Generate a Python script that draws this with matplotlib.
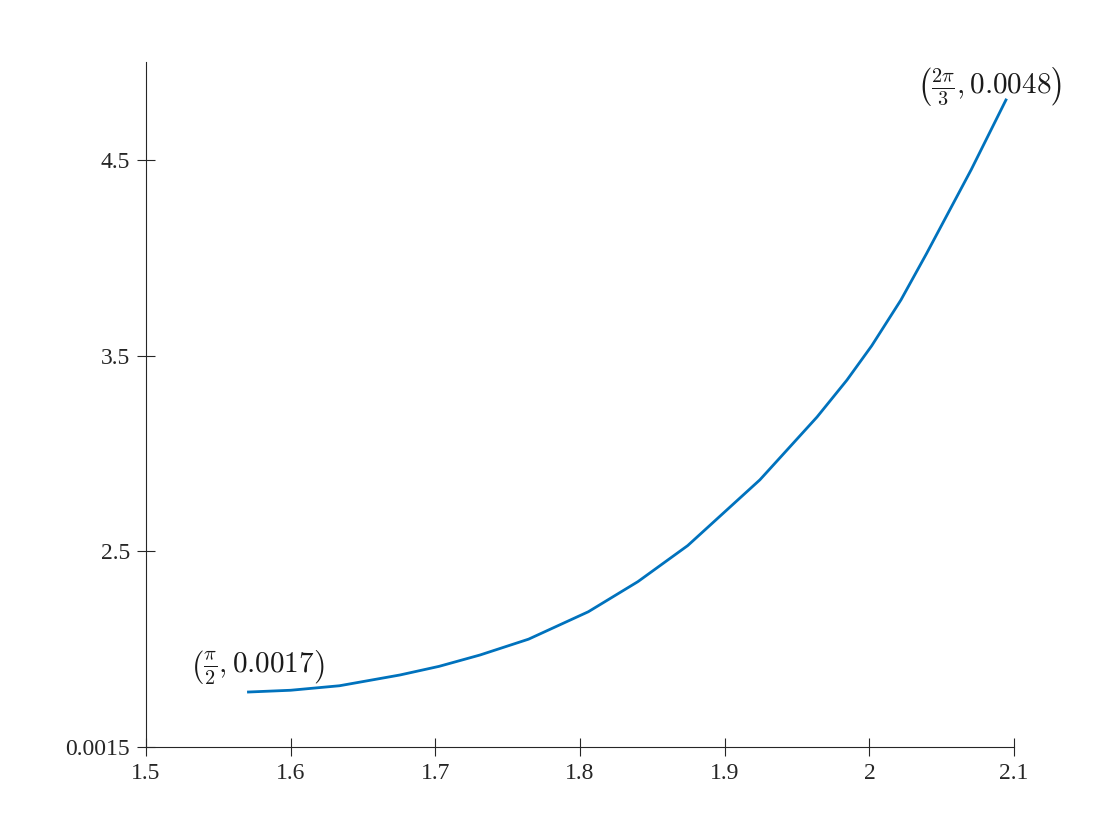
import numpy as np
import matplotlib
matplotlib.use("Agg")
import matplotlib.pyplot as plt

# points (y in units of 1e-3)
x_vals = [1.5708, 1.6000, 1.6337, 1.6755, 1.7025, 1.7308, 1.7644, 1.8057, 1.8400,
          1.8744, 1.9243, 1.9638, 1.9845, 2.0016, 2.0218, 2.0395, 2.0704, 2.0944]
y_vals = [1.781, 1.790, 1.813, 1.868, 1.912, 1.970, 2.051, 2.191, 2.345,
          2.529, 2.865, 3.186, 3.375, 3.550, 3.784, 4.021, 4.450, 4.806]

x_ticks = [1.5, 1.6, 1.7, 1.8, 1.9, 2.0, 2.1]
x_tick_labels = ['1.5', '1.6', '1.7', '1.8', '1.9', '2', '2.1']
y_ticks = [1.5, 2.5, 3.5, 4.5]
y_tick_labels = ['0.0015', '2.5', '3.5', '4.5']

start_label = r'$\left(\frac{\pi}{2},0.0017\right)$'
end_label = r'$\left(\frac{2\pi}{3},0.0048\right)$'

plt.rcParams['font.family'] = ['Liberation Serif', 'DejaVu Serif']
plt.rcParams['mathtext.fontset'] = 'cm'

fig = plt.figure(figsize=(11.2, 8.4), dpi=100)
ax = fig.add_axes([0.1304, 0.1107, 0.775, 0.8155])

ax.plot(x_vals, y_vals, color='#0072BD', lw=2, solid_joinstyle='round')

ax.set_xlim(1.5, 2.1)
ax.set_ylim(1.5, 5.0)
ax.set_xticks(x_ticks)
ax.set_xticklabels(x_tick_labels)
ax.set_yticks(y_ticks)
ax.set_yticklabels(y_tick_labels)
ax.tick_params(direction='inout', length=13, width=0.8, labelsize=17,
               colors='#262626', pad=5)

for side in ['top', 'right']:
    ax.spines[side].set_visible(False)
for side in ['left', 'bottom']:
    ax.spines[side].set_color('#262626')
    ax.spines[side].set_linewidth(0.8)

ax.text(1.5774, 1.909, start_label, fontsize=21,
        ha='center', va='center', color='#1a1a1a')
ax.text(2.0833, 4.873, end_label, fontsize=21,
        ha='center', va='center', color='#1a1a1a')

fig.savefig('out.png', dpi=100)
